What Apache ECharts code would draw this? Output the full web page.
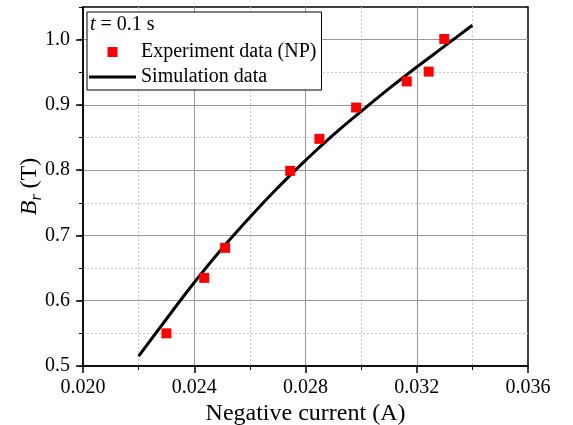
<!DOCTYPE html>
<html>
<head>
<meta charset="utf-8">
<script src="https://cdn.jsdelivr.net/npm/echarts@6/dist/echarts.min.js"></script>
<style>
  html, body { margin: 0; padding: 0; background: #fff; }
  #chart { width: 573px; height: 425px; }
</style>
</head>
<body>
<div id="chart"></div>
<script>
// Measured remanence B_r versus negative current, t = 0.1 s
const expCurrent = [0.0230, 0.02436, 0.02511, 0.02745, 0.0285, 0.02982, 0.03164, 0.03243, 0.03299];
const expBr      = [0.550, 0.635, 0.681, 0.799, 0.848, 0.896, 0.936, 0.951, 1.001];

// Simulated curve
const simCurrent = [0.022, 0.023, 0.024, 0.025, 0.026, 0.027, 0.028, 0.029, 0.030, 0.031, 0.032, 0.033, 0.034];
const simBr      = [0.515, 0.572, 0.628, 0.680, 0.728, 0.773, 0.815, 0.854, 0.890, 0.925, 0.958, 0.990, 1.022];

const seriesNames = ['Experiment data (NP)', 'Simulation data'];
const FONT = 'Liberation Serif';

const chart = echarts.init(document.getElementById('chart'), null, { renderer: 'canvas' });

const zipPairs = (xs, ys) => xs.map((x, i) => [x, ys[i]]);

const majorGrid = { show: true, showMinLine: false, showMaxLine: false, lineStyle: { color: '#999', width: 1 } };
const minorGrid = { show: true, lineStyle: { color: '#c8c8c8', width: 1, type: [2, 2] } };

chart.setOption({
  animation: false,
  backgroundColor: '#fff',
  grid: {
    left: 83, right: 45, top: 7, bottom: 59,
    outerBoundsMode: 'none', containLabel: false,
    show: true, borderColor: '#000', borderWidth: 1.5, backgroundColor: 'transparent'
  },
  title: {
    text: '{i|t} = 0.1 s',
    left: 90, top: 15, padding: 0, z: 10,
    textStyle: {
      fontFamily: FONT, fontSize: 20, fontWeight: 'normal', color: '#000',
      rich: { i: { fontFamily: FONT, fontSize: 20, fontStyle: 'italic', color: '#000' } }
    }
  },
  legend: {
    orient: 'vertical',
    left: 87, top: 12,
    padding: [30, 5, 3, 2],
    itemGap: 5,
    itemWidth: 47, itemHeight: 10,
    borderColor: '#000', borderWidth: 1, borderRadius: 0,
    backgroundColor: '#fff',
    textStyle: { fontFamily: FONT, fontSize: 20, color: '#000' },
    data: [
      { name: seriesNames[0], icon: 'path://M0,0H10V10H0Z', itemStyle: { color: '#ff0000', opacity: 1 } },
      { name: seriesNames[1], icon: 'path://M0,0H47V3H0Z', itemStyle: { color: '#000' } }
    ]
  },
  xAxis: {
    type: 'value',
    min: 0.020, max: 0.036, interval: 0.004,
    name: 'Negative current (A)',
    nameLocation: 'middle', nameGap: 36, nameMoveOverlap: false,
    nameTextStyle: { fontFamily: FONT, fontSize: 24, color: '#000' },
    axisLine: { show: true, lineStyle: { color: '#000', width: 1.5 } },
    axisTick: { show: true, inside: false, length: 7, lineStyle: { color: '#000', width: 1.5 } },
    minorTick: { show: true, splitNumber: 2, length: 4, lineStyle: { color: '#000', width: 1 } },
    axisLabel: { fontFamily: FONT, fontSize: 20, color: '#000', margin: 12, formatter: v => v.toFixed(3) },
    splitLine: majorGrid,
    minorSplitLine: minorGrid
  },
  yAxis: [
    {
      type: 'value',
      position: 'left',
      z: 1,
      min: 0.5, max: 1.05, interval: 0.1,
      name: '{b|B}{r|r}{n| (T)}',
      nameLocation: 'middle', nameGap: 38, nameRotate: 90, nameMoveOverlap: false,
      nameTextStyle: {
        fontFamily: FONT, fontSize: 24, color: '#000',
        rich: {
          b: { fontFamily: FONT, fontSize: 24, fontStyle: 'italic', color: '#000', lineHeight: 30 },
          r: { fontFamily: FONT, fontSize: 16, fontStyle: 'italic', color: '#000', verticalAlign: 'bottom', lineHeight: 30, padding: [10, 0, 0, 0] },
          n: { fontFamily: FONT, fontSize: 24, color: '#000', lineHeight: 30 }
        }
      },
      axisLine: { show: true, lineStyle: { color: '#000', width: 1.5 } },
      axisTick: { show: true, inside: false, length: 7, lineStyle: { color: '#000', width: 1.5 } },
      axisLabel: { fontFamily: FONT, fontSize: 20, color: '#000', margin: 13, showMaxLabel: false, formatter: v => v.toFixed(1) },
      splitLine: majorGrid
    },
    {
      // half-step ticks and dotted grid
      type: 'value',
      position: 'left',
      z: 0,
      min: 0.5, max: 1.05, interval: 0.05,
      axisLine: { show: false },
      axisTick: { show: true, inside: false, length: 4, lineStyle: { color: '#000', width: 1 } },
      axisLabel: { show: false },
      splitLine: { show: true, showMinLine: false, showMaxLine: false, lineStyle: { color: '#c8c8c8', width: 1, type: [2, 2] } }
    }
  ],
  series: [
    {
      name: seriesNames[0],
      type: 'scatter',
      yAxisIndex: 0,
      symbol: 'rect',
      symbolSize: 10,
      itemStyle: { color: '#ff0000', opacity: 1 },
      z: 4,
      data: zipPairs(expCurrent, expBr)
    },
    {
      name: seriesNames[1],
      type: 'line',
      yAxisIndex: 0,
      symbol: 'none',
      smooth: true,
      lineStyle: { color: '#000', width: 3 },
      itemStyle: { color: '#000' },
      z: 3,
      data: zipPairs(simCurrent, simBr)
    }
  ]
});
</script>
</body>
</html>
